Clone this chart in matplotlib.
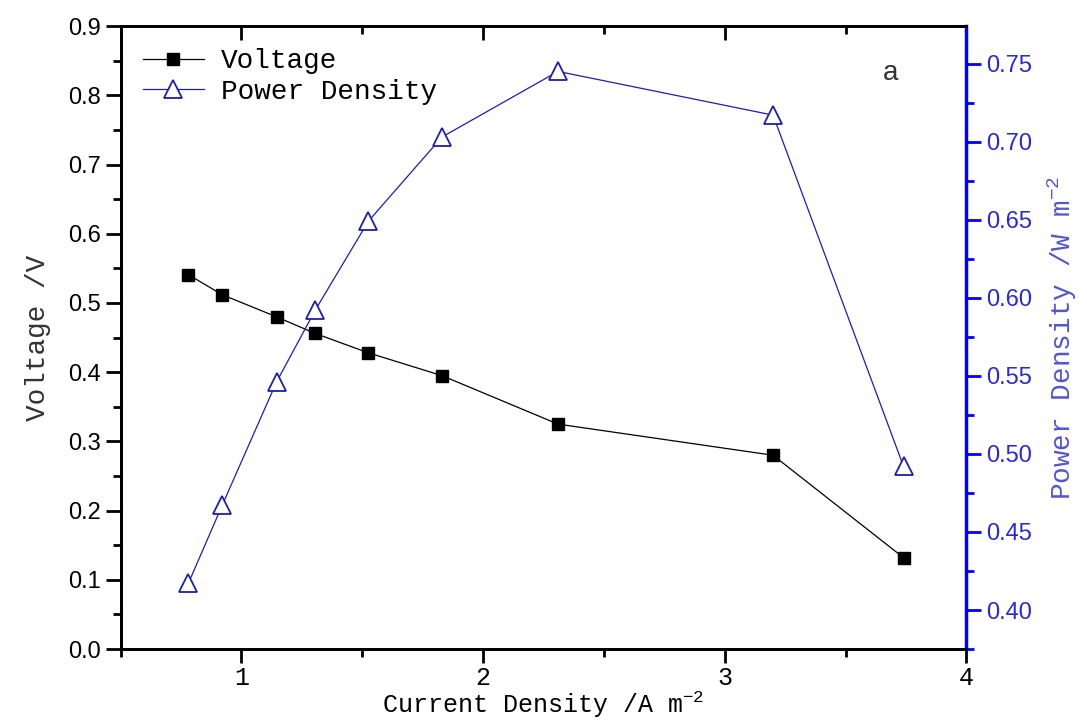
import numpy as np
import matplotlib
matplotlib.use('Agg')
import matplotlib.pyplot as plt
from matplotlib.ticker import MultipleLocator

plt.rcParams['mathtext.default'] = 'regular'

# data
current = [0.78, 0.92, 1.145, 1.305, 1.525, 1.83, 2.31, 3.20, 3.74]
voltage = [0.541, 0.512, 0.480, 0.456, 0.428, 0.395, 0.325, 0.280, 0.132]
power = [0.417, 0.467, 0.546, 0.592, 0.649, 0.703, 0.745, 0.717, 0.492]

mono = 'Liberation Mono'
navy = '#1f1fa0'
blue = '#0000ff'

fig = plt.figure(figsize=(10.87, 7.26), dpi=100, facecolor='white')
ax = fig.add_axes([0.111, 0.106, 0.778, 0.858])
ax2 = ax.twinx()

l1, = ax.plot(current, voltage, color='black', lw=0.9, marker='s', ms=9,
              mfc='black', mec='black', label='Voltage')
l2, = ax2.plot(current, power, color=navy, lw=0.9, marker='^', ms=13,
               mfc='white', mec=navy, mew=1.3, label='Power Density')

ax.set_xlim(0.5, 4.0)
ax.set_ylim(0.0, 0.9)
ax2.set_ylim(0.375, 0.774)

ax.xaxis.set_major_locator(MultipleLocator(1))
ax.xaxis.set_minor_locator(MultipleLocator(0.5))
ax.yaxis.set_major_locator(MultipleLocator(0.1))
ax.yaxis.set_minor_locator(MultipleLocator(0.05))
ax2.yaxis.set_major_locator(MultipleLocator(0.05))
ax2.yaxis.set_minor_locator(MultipleLocator(0.025))
ax.yaxis.set_major_formatter(plt.FormatStrFormatter('%.1f'))
ax2.yaxis.set_major_formatter(plt.FormatStrFormatter('%.2f'))

for s in ['left', 'bottom', 'top']:
    ax.spines[s].set_linewidth(2)
    ax2.spines[s].set_linewidth(2)
ax.spines['right'].set_visible(False)
ax2.spines['right'].set_color(blue)
ax2.spines['right'].set_linewidth(2.5)

ax.tick_params(axis='x', which='major', direction='out', length=10, width=2,
               top=True, labelsize=18, pad=2)
ax.tick_params(axis='x', which='minor', direction='out', length=6, width=2, top=True)
ax.tick_params(axis='y', which='major', direction='out', length=11, width=2,
               labelsize=17, right=False)
ax.tick_params(axis='y', which='minor', direction='out', length=6, width=2, right=False)
for t in ax.get_xticklabels():
    t.set_fontfamily(mono)
for t in ax.get_yticklabels():
    t.set_fontfamily('Liberation Sans')
# top ticks point inward
for tk in ax.xaxis.get_major_ticks() + ax.xaxis.get_minor_ticks():
    tk.tick2line.set_marker(3)

ax2.tick_params(axis='y', which='major', direction='out', length=11, width=2,
                colors=blue, labelsize=17, labelcolor='#2a2ac8')
ax2.tick_params(axis='y', which='minor', direction='out', length=6, width=2, colors=blue)
for t in ax2.get_yticklabels():
    t.set_fontfamily('Liberation Sans')

ax.set_xlabel('Current Density /A m$^{-2}$', fontfamily=mono, fontsize=18, labelpad=0)
ax.set_ylabel('Voltage /V', fontfamily=mono, fontsize=20, color='#333333', labelpad=12)
ax2.set_ylabel('Power Density /W m$^{-2}$', fontfamily=mono, fontsize=20,
               color='#5555cc', labelpad=10)

leg = ax.legend(handles=[l1, l2], loc='upper left', frameon=False,
                prop={'family': mono, 'size': 20}, handlelength=2.2,
                handletextpad=0.6, borderaxespad=0.4, labelspacing=0.15)

ax.text(0.91, 0.925, 'a', transform=ax.transAxes, fontsize=20,
        fontfamily='Liberation Sans', color='#333333', ha='center', va='center')

plt.savefig('out.png', dpi=100)
